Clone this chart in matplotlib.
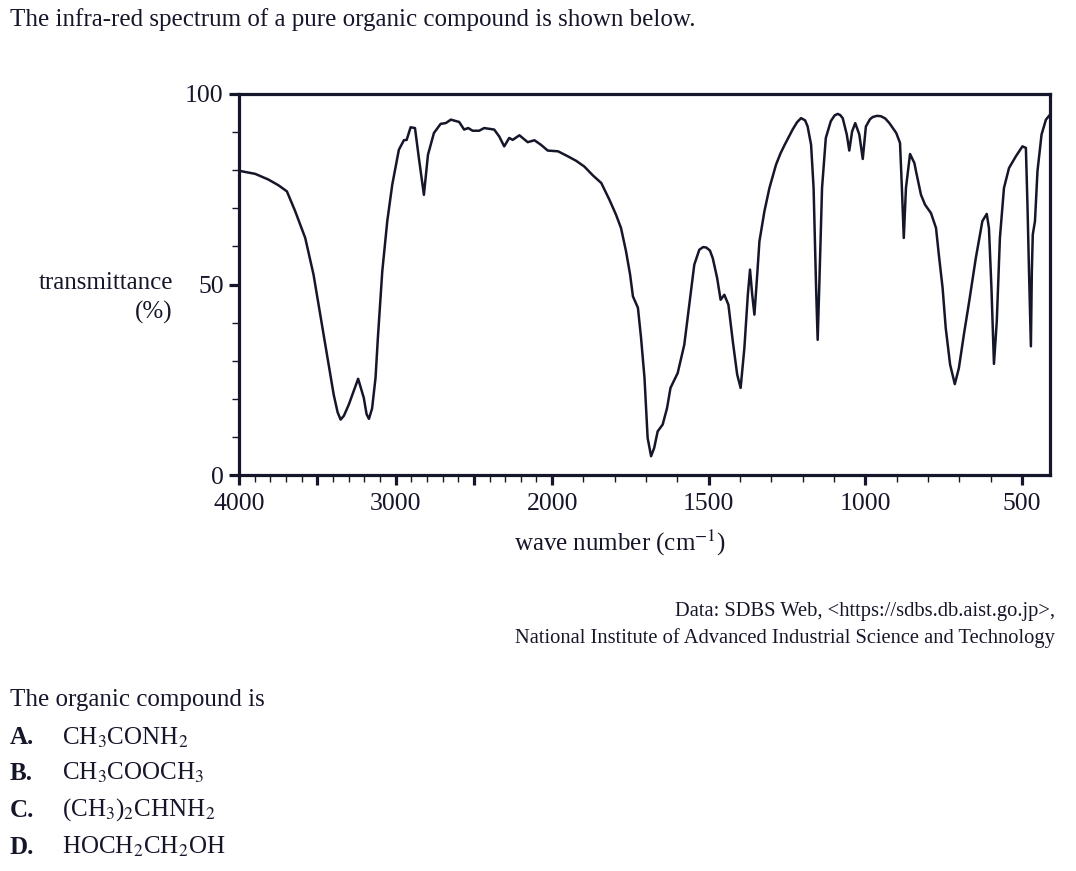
import matplotlib
matplotlib.use('Agg')
import matplotlib.pyplot as plt
import numpy as np

plt.rcParams['font.family'] = ['Liberation Serif', 'DejaVu Serif']
plt.rcParams['mathtext.fontset'] = 'stix'

INK = '#16162a'

# Спектр
wavenumber = [4000, 3897, 3812, 3748, 3694, 3641, 3577, 3524, 3481, 3438, 3395, 3370, 3351,
              3330, 3299, 3239, 3203, 3185, 3170, 3150, 3128, 3113, 3085, 3053, 3021, 2979, 2947, 2929,
              2904, 2876, 2851, 2819, 2793, 2755, 2712, 2679, 2647, 2594, 2562, 2536,
              2508, 2466, 2434, 2370, 2338, 2306, 2274, 2252, 2209, 2156, 2113, 2071,
              2028, 1981, 1950, 1923, 1897, 1870, 1843, 1817, 1796, 1780, 1764, 1751,
              1742, 1726, 1716, 1705, 1695, 1684, 1674, 1663, 1647, 1633, 1622, 1599,
              1578, 1562, 1546, 1530, 1518, 1508, 1496, 1487, 1473, 1462, 1450, 1437, 1423, 1409,
              1398, 1386, 1375, 1368, 1361, 1354, 1345, 1338, 1322, 1306, 1285, 1271,
              1258, 1232, 1218, 1205, 1192, 1184, 1173, 1165, 1157, 1152, 1147, 1138, 1126, 1110,
              1098, 1088, 1080, 1072, 1059, 1051, 1042, 1032, 1019, 1008, 998, 985, 976, 962, 950, 936, 923,
              901, 889, 883, 877, 870, 857, 843, 838, 822, 809, 790, 774,
              765, 753, 743, 729, 714, 701, 685, 668, 647, 626, 612, 605,
              597, 589, 580, 570, 557, 541, 519, 498, 487, 482, 477, 471,
              468, 465, 458, 450, 437, 423, 410]
transmittance = [79.8, 79.0, 77.5, 76.0, 74.4, 69.2, 62.2, 52.6, 42.1, 31.6, 21.1, 16.5, 14.6,
                 15.6, 18.5, 25.3, 20.3, 16.0, 14.8, 17.5, 25.5, 36.0, 53.4, 66.6, 76.2, 85.3, 87.8, 87.9,
                 91.2, 91.0, 83.1, 73.5, 84.0, 89.7, 92.1, 92.3, 93.2, 92.6, 90.6, 91.0,
                 90.3, 90.3, 91.0, 90.6, 88.8, 86.2, 88.4, 87.9, 89.1, 87.3, 87.8, 86.6,
                 85.1, 84.9, 83.6, 82.4, 80.9, 78.6, 76.6, 72.2, 68.3, 64.8, 58.7, 52.6,
                 46.9, 43.9, 36.0, 25.5, 9.8, 5.0, 7.2, 11.5, 13.3, 17.6, 22.9, 26.8,
                 34.2, 44.7, 55.2, 59.1, 59.8, 59.7, 58.9, 56.9, 51.7, 46.0, 47.3, 44.7, 35.1, 26.4,
                 22.9, 33.4, 47.3, 53.9, 47.3, 42.1, 52.6, 61.3, 69.2, 75.3, 81.4, 84.3,
                 86.5, 90.6, 92.5, 93.6, 93.0, 91.4, 86.6, 75.3, 49.1, 35.5, 49.1, 75.3, 88.4, 92.8,
                 94.3, 94.7, 94.4, 93.6, 89.3, 85.1, 90.1, 92.3, 89.3, 82.9, 91.4, 93.3, 93.9, 94.2, 94.1, 93.5, 92.3,
                 89.7, 87.1, 75.3, 62.2, 75.3, 84.2, 81.8, 79.7, 73.5, 70.9, 68.7, 64.8,
                 57.8, 49.1, 38.6, 29.0, 23.9, 28.1, 36.9, 45.6, 56.9, 66.6, 68.5, 64.8,
                 49.1, 29.2, 40.3, 62.2, 75.3, 80.5, 83.6, 86.2, 85.8, 70.9, 53.4, 33.8,
                 53.4, 63.1, 66.6, 79.7, 89.3, 93.2, 94.5]

major_x = [4000, 3500, 3000, 2500, 2000, 1500, 1000, 500]
major_x_labels = ['4000', '', '3000', '', '2000', '1500', '1000', '500']
minor_x = [w for w in range(500, 4000, 100) if w not in major_x]

options = ['A.', 'B.', 'C.', 'D.']
formulas = [r'CH$_3$CONH$_2$', r'CH$_3$COOCH$_3$',
            r'(CH$_3$)$_2$CHNH$_2$', r'HOCH$_2$CH$_2$OH']


# выше 2000 см-1 шкала сжата вдвое
def fwd(w):
    w = np.asarray(w, dtype=float)
    return np.where(w > 2000, 2000 + (w - 2000) / 2, w)


def inv(u):
    u = np.asarray(u, dtype=float)
    return np.where(u > 2000, 2000 + (u - 2000) * 2, u)


fig = plt.figure(figsize=(10.76, 8.71), dpi=100)
ax = fig.add_axes([239 / 1076, 1 - 475.3 / 871, (1050 - 239) / 1076, (475.3 - 93.7) / 871])

ax.plot(wavenumber, transmittance, color=INK, linewidth=1.8, solid_joinstyle='round')

ax.set_xscale('function', functions=(fwd, inv))
ax.set_xlim(4000, 410)
ax.set_ylim(0, 100)

ax.set_xticks(major_x)
ax.set_xticklabels(major_x_labels)
ax.set_xticks(minor_x, minor=True)
ax.set_yticks([0, 50, 100])
ax.set_yticks(range(10, 100, 10), minor=True)

for s in ax.spines.values():
    s.set_linewidth(2.3)
    s.set_color(INK)
ax.tick_params(which='major', direction='out', length=7, width=2.3, color=INK,
               labelsize=18.5, labelcolor=INK, pad=4)
ax.tick_params(axis='x', which='major', pad=6)
ax.tick_params(which='minor', direction='out', length=5, width=1.0, color=INK)

fig.text(173 / 1076, 1 - 298 / 871, 'transmittance\n(%)', ha='right', va='center',
         multialignment='right', fontsize=18, color=INK, linespacing=1.4)
fig.text(620 / 1076, 1 - 543 / 871, r'wave number (cm$^{-1}$)', ha='center', va='center',
         fontsize=18, color=INK)

fig.text(10 / 1076, 1 - 20 / 871, 'The infra-red spectrum of a pure organic compound is shown below.',
         ha='left', va='center', fontsize=18, color=INK)

fig.text(1055 / 1076, 1 - 611 / 871, 'Data: SDBS Web, <https://sdbs.db.aist.go.jp>,',
         ha='right', va='center', fontsize=14.8, color=INK)
fig.text(1055 / 1076, 1 - 638 / 871, 'National Institute of Advanced Industrial Science and Technology',
         ha='right', va='center', fontsize=14.8, color=INK)

fig.text(10 / 1076, 1 - 700 / 871, 'The organic compound is', ha='left', va='center',
         fontsize=18, color=INK)
row_y = [738, 773, 810, 847]
for lab, form, yy in zip(options, formulas, row_y):
    fig.text(10 / 1076, 1 - yy / 871, lab, ha='left', va='center', fontsize=18,
             fontweight='bold', color=INK)
    fig.text(62 / 1076, 1 - yy / 871, form, ha='left', va='center', fontsize=18, color=INK)

fig.savefig('out.png', dpi=100, facecolor='white')
